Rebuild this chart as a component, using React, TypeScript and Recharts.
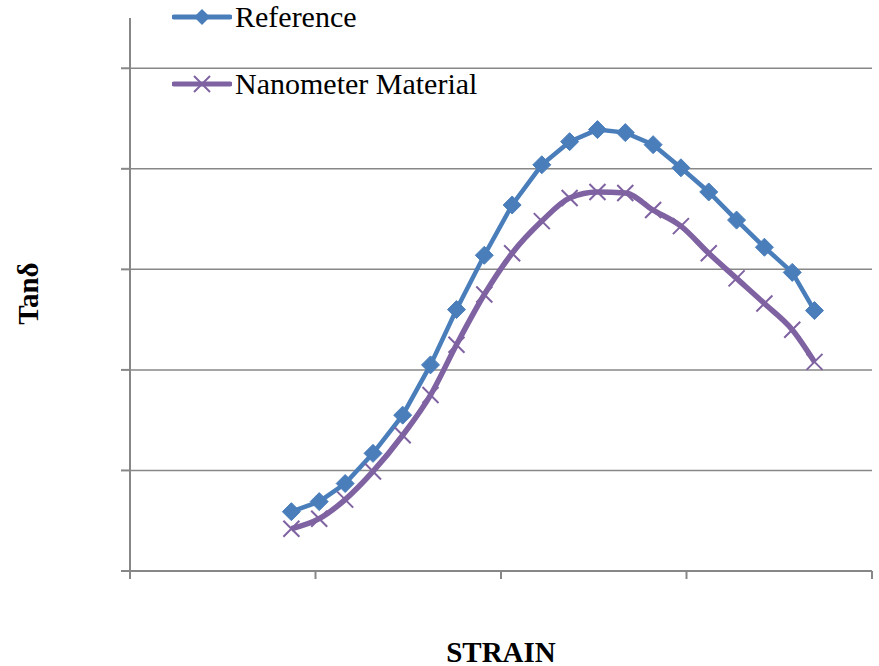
import { CartesianGrid, Label, Legend, Line, LineChart, XAxis, YAxis } from "recharts";

const strain = [
  0.87, 1.02, 1.16, 1.31, 1.47, 1.62, 1.76, 1.91, 2.06, 2.22, 2.37, 2.52, 2.67,
  2.82, 2.97, 3.12, 3.27, 3.42, 3.57, 3.69,
];
const reference = [
  0.59, 0.69, 0.87, 1.17, 1.55, 2.05, 2.6, 3.14, 3.64, 4.04, 4.27, 4.39, 4.36,
  4.24, 4.01, 3.77, 3.49, 3.22, 2.97, 2.59,
];
const nanometer = [
  0.42, 0.52, 0.71, 0.99, 1.35, 1.75, 2.25, 2.75, 3.16, 3.48, 3.71, 3.77, 3.76,
  3.59, 3.43, 3.16, 2.91, 2.66, 2.4, 2.08,
];
const xTicks = [0, 1, 2, 3, 4];
const yTicks = [0, 1, 2, 3, 4, 5];
const gridValues = [1, 2, 3, 4, 5];

const data = strain.map((s, i) => ({
  strain: s,
  reference: reference[i],
  nanometer: nanometer[i],
}));

const BLUE = "#4a7ebb";
const PURPLE = "#7f62a1";
const GRID = "#878787";
const FONT = "'Liberation Serif', 'Times New Roman', serif";

function diamond(cx: number, cy: number, r: number) {
  return `M${cx} ${cy - r} L${cx + r} ${cy} L${cx} ${cy + r} L${cx - r} ${cy} Z`;
}

function cross(cx: number, cy: number, r: number) {
  return `M${cx - r} ${cy - r} L${cx + r} ${cy + r} M${cx - r} ${cy + r} L${cx + r} ${cy - r}`;
}

const DiamondDot = (p: any) => (
  <path key={`d-${p.index}`} d={diamond(p.cx, p.cy, 9)} fill={BLUE} stroke={BLUE} strokeWidth={1} strokeLinejoin="round" />
);

const CrossDot = (p: any) => (
  <path key={`x-${p.index}`} d={cross(p.cx, p.cy, 8)} fill="none" stroke={PURPLE} strokeWidth={2} />
);

const legendItems = [
  { key: "reference", label: "Reference", color: BLUE, center: 16.5 },
  { key: "nanometer", label: "Nanometer Material", color: PURPLE, center: 84 },
];

const renderLegend = () => (
  <div style={{ position: "relative", width: 879, height: 100 }}>
    {legendItems.map((it) => (
      <div
        key={it.key}
        style={{
          position: "absolute",
          left: 172,
          top: it.center - 15,
          height: 30,
          display: "flex",
          alignItems: "center",
          whiteSpace: "nowrap",
        }}
      >
        <svg width={60} height={30}>
          <line x1={2} y1={15} x2={58} y2={15} stroke={it.color} strokeWidth={5} strokeLinecap="round" />
          {it.key === "reference" ? (
            <path d={diamond(30, 15, 8)} fill={BLUE} />
          ) : (
            <path d={cross(30, 15, 8)} stroke={PURPLE} strokeWidth={2} fill="none" />
          )}
        </svg>
        <span style={{ fontFamily: FONT, fontSize: 30, lineHeight: "30px", color: "#000", marginLeft: 3 }}>
          {it.label}
        </span>
      </div>
    ))}
  </div>
);

export default function App() {
  return (
    <div style={{ position: "absolute", left: 0, top: 0, background: "#fff" }}>
      <LineChart width={879} height={666} data={data} margin={{ top: 18, right: 7, bottom: 0, left: 0 }}>
        <CartesianGrid vertical={false} horizontalValues={gridValues} stroke={GRID} strokeWidth={1.5} />
        <XAxis
          type="number"
          dataKey="strain"
          domain={[0, 4]}
          ticks={xTicks}
          tickFormatter={() => ""}
          tickSize={8}
          height={95}
          axisLine={{ stroke: GRID, strokeWidth: 2 }}
          tickLine={{ stroke: GRID, strokeWidth: 2 }}
        >
          <Label
            content={(p: any) => {
              const vb = p.viewBox;
              return (
                <text
                  x={vb.x + vb.width / 2}
                  y={vb.y + 91}
                  textAnchor="middle"
                  fontFamily={FONT}
                  fontSize={29}
                  fontWeight="bold"
                  fill="#000"
                >
                  STRAIN
                </text>
              );
            }}
          />
        </XAxis>
        <YAxis
          type="number"
          domain={[0, 5.5]}
          ticks={yTicks}
          tickFormatter={() => ""}
          tickSize={9}
          width={130}
          axisLine={{ stroke: GRID, strokeWidth: 2 }}
          tickLine={{ stroke: GRID, strokeWidth: 2 }}
        >
          <Label
            content={(p: any) => {
              const vb = p.viewBox;
              const cx = 28;
              const cy = vb.y + vb.height / 2 - 1;
              return (
                <text
                  x={cx}
                  y={cy}
                  transform={`rotate(-90 ${cx} ${cy})`}
                  textAnchor="middle"
                  dominantBaseline="central"
                  fontFamily={FONT}
                  fontSize={29}
                  fontWeight="bold"
                  fill="#000"
                >
                  Tanδ
                </text>
              );
            }}
          />
        </YAxis>
        <Legend
          layout="vertical"
          align="center"
          verticalAlign="middle"
          wrapperStyle={{ position: "absolute", left: 0, top: 0, width: "auto", height: "auto" }}
          content={renderLegend}
        />
        <Line
          type="linear"
          dataKey="reference"
          name="Reference"
          stroke={BLUE}
          strokeWidth={4.5}
          dot={DiamondDot}
          activeDot={false}
          isAnimationActive={false}
        />
        <Line
          type="monotone"
          dataKey="nanometer"
          name="Nanometer Material"
          stroke={PURPLE}
          strokeWidth={5.5}
          dot={CrossDot}
          activeDot={false}
          isAnimationActive={false}
        />
      </LineChart>
    </div>
  );
}
